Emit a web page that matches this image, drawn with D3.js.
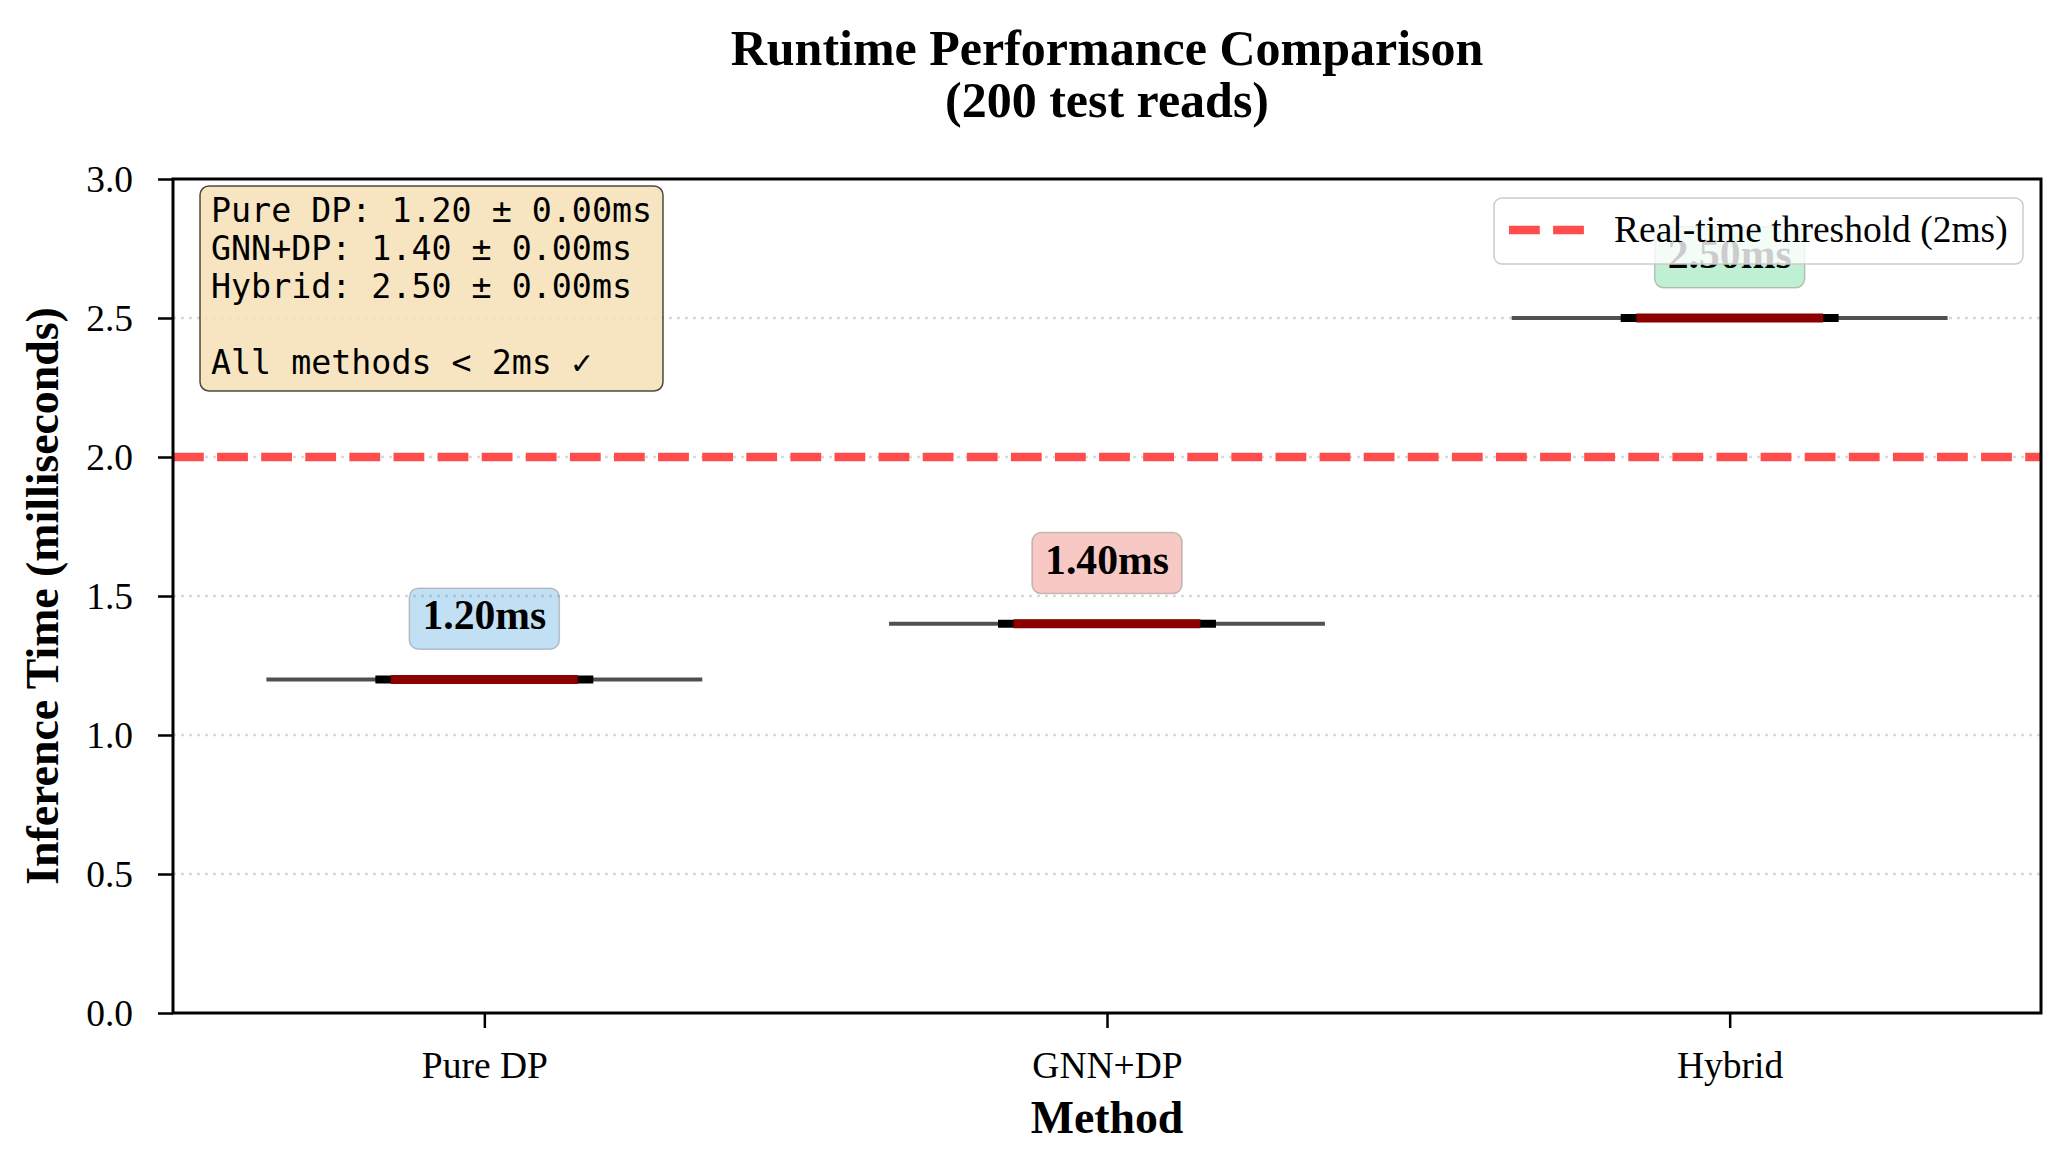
<!DOCTYPE html>
<html>
<head>
<meta charset="utf-8">
<script src="https://cdn.jsdelivr.net/npm/d3@7"></script>
<style>
  html, body { margin: 0; padding: 0; background: #ffffff; }
  svg { display: block; }
</style>
</head>
<body>
<svg id="chart" width="2071" height="1173"></svg>
<script>
// ---- data ----
const methods = ["Pure DP", "GNN+DP", "Hybrid"];
const meanTimes = [1.20, 1.40, 2.50];
const stdTimes = [0.00, 0.00, 0.00];
const labelColors = ["#3498db", "#e74c3c", "#2ecc71"];
const yTicks = [0.0, 0.5, 1.0, 1.5, 2.0, 2.5, 3.0];
const yDomain = [0, 3];
const thresholdValue = 2;
const thresholdLabel = "Real-time threshold (2ms)";
const titleLines = ["Runtime Performance Comparison", "(200 test reads)"];
const xLabel = "Method";
const yLabel = "Inference Time (milliseconds)";

// ---- layout ----
const W = 2071, H = 1173;
const M = { left: 173, right: 2041, top: 179, bottom: 1013 };
const serif = "'Liberation Serif', 'Times New Roman', Times, serif";
const mono = "'DejaVu Sans Mono', monospace";

const svg = d3.select("#chart");

const x = d3.scalePoint().domain(methods).range([M.left, M.right]).padding(0.5);
const step = x.step();
const y = d3.scaleLinear().domain(yDomain).range([M.bottom, M.top]);

// grid
svg.append("g").selectAll("line")
  .data(yTicks.filter(t => t > yDomain[0] && t < yDomain[1]))
  .join("line")
  .attr("x1", M.left).attr("x2", M.right)
  .attr("y1", d => y(d)).attr("y2", d => y(d))
  .attr("stroke", "#d9d9d9").attr("stroke-width", 2.5)
  .attr("stroke-dasharray", "3,5");

// threshold line
svg.append("line")
  .attr("x1", M.left).attr("x2", M.right)
  .attr("y1", y(thresholdValue)).attr("y2", y(thresholdValue))
  .attr("stroke", "rgb(255,77,77)").attr("stroke-width", 8.3)
  .attr("stroke-dasharray", "30.8,13.3");

// violin (degenerate) + box + median
const g = svg.append("g");
methods.forEach((m, i) => {
  const cx = x(m), cy = y(meanTimes[i]);
  g.append("line")
    .attr("x1", cx - 0.35 * step).attr("x2", cx + 0.35 * step)
    .attr("y1", cy).attr("y2", cy)
    .attr("stroke", "#505050").attr("stroke-width", 4);
  g.append("line")
    .attr("x1", cx - 0.175 * step).attr("x2", cx + 0.175 * step)
    .attr("y1", cy).attr("y2", cy)
    .attr("stroke", "#000000").attr("stroke-width", 8);
  g.append("line")
    .attr("x1", cx - 0.15 * step).attr("x2", cx + 0.15 * step)
    .attr("y1", cy).attr("y2", cy)
    .attr("stroke", "#8b0000").attr("stroke-width", 9);
});

// value annotations
methods.forEach((m, i) => {
  const cx = x(m);
  const base = y(meanTimes[i] + 0.15) - 8.5;
  const ag = svg.append("g");
  ag.append("rect")
    .attr("x", cx - 75).attr("y", base - 41)
    .attr("width", 150).attr("height", 61)
    .attr("rx", 9).attr("ry", 9)
    .attr("fill", labelColors[i]).attr("fill-opacity", 0.3)
    .attr("stroke", "#7f7f7f").attr("stroke-opacity", 0.45).attr("stroke-width", 1.5);
  ag.append("text")
    .attr("x", cx).attr("y", base)
    .attr("text-anchor", "middle")
    .attr("font-family", serif).attr("font-weight", "bold")
    .attr("font-size", 41.7).attr("fill", "#000")
    .text(meanTimes[i].toFixed(2) + "ms");
});

// axes
const yAxis = d3.axisLeft(y).tickValues(yTicks).tickFormat(d3.format(".1f"))
  .tickSize(15).tickPadding(25);
const ya = svg.append("g").attr("transform", `translate(${M.left},0)`).call(yAxis);
ya.select(".domain").remove();
ya.selectAll(".tick line").attr("stroke", "#000").attr("stroke-width", 2.5);
ya.selectAll(".tick text").attr("font-family", serif).attr("font-size", 37.5).attr("fill", "#000");

const xAxis = d3.axisBottom(x).tickSize(15);
const xa = svg.append("g").attr("transform", `translate(0,${M.bottom})`).call(xAxis);
xa.select(".domain").remove();
xa.selectAll(".tick line").attr("stroke", "#000").attr("stroke-width", 2.5);
xa.selectAll(".tick text").attr("font-family", serif).attr("font-size", 37.5).attr("fill", "#000")
  .attr("y", 65).attr("dy", 0);

// frame
svg.append("rect")
  .attr("x", M.left).attr("y", M.top)
  .attr("width", M.right - M.left).attr("height", M.bottom - M.top)
  .attr("fill", "none").attr("stroke", "#000").attr("stroke-width", 3);

// stats box
const statLines = methods.map((m, i) => `${m}: ${meanTimes[i].toFixed(2)} ± ${stdTimes[i].toFixed(2)}ms`);
statLines.push("");
statLines.push(`All methods < ${thresholdValue}ms ✓`);
const sb = svg.append("g");
sb.append("rect")
  .attr("x", 200).attr("y", 186).attr("width", 463).attr("height", 205)
  .attr("rx", 9).attr("ry", 9)
  .attr("fill", "#f5deb3").attr("fill-opacity", 0.8)
  .attr("stroke", "#000").attr("stroke-opacity", 0.7).attr("stroke-width", 1.5);
statLines.forEach((s, i) => {
  sb.append("text")
    .attr("x", 211).attr("y", 222 + i * 38)
    .attr("font-family", mono).attr("font-size", 33.3).attr("fill", "#000")
    .attr("xml:space", "preserve")
    .text(s);
});

// legend
const lg = svg.append("g");
lg.append("rect")
  .attr("x", 1494).attr("y", 198).attr("width", 529).attr("height", 66)
  .attr("rx", 8).attr("ry", 8)
  .attr("fill", "#ffffff").attr("fill-opacity", 0.8)
  .attr("stroke", "#cccccc").attr("stroke-width", 1.5);
lg.append("line")
  .attr("x1", 1509).attr("x2", 1584).attr("y1", 230).attr("y2", 230)
  .attr("stroke", "rgb(255,77,77)").attr("stroke-width", 8.3)
  .attr("stroke-dasharray", "30.8,13.3");
lg.append("text")
  .attr("x", 1614).attr("y", 242)
  .attr("font-family", serif).attr("font-size", 37.5).attr("fill", "#000")
  .text(thresholdLabel);

// title
const cxMid = (M.left + M.right) / 2;
titleLines.forEach((t, i) => {
  svg.append("text")
    .attr("x", cxMid).attr("y", 65 + i * 52)
    .attr("text-anchor", "middle")
    .attr("font-family", serif).attr("font-weight", "bold").attr("font-size", 50)
    .attr("fill", "#000")
    .text(t);
});

// axis labels
svg.append("text")
  .attr("x", cxMid).attr("y", 1133)
  .attr("text-anchor", "middle")
  .attr("font-family", serif).attr("font-weight", "bold").attr("font-size", 45.8)
  .attr("fill", "#000")
  .text(xLabel);
svg.append("text")
  .attr("transform", `translate(58,${(M.top + M.bottom) / 2}) rotate(-90)`)
  .attr("text-anchor", "middle")
  .attr("font-family", serif).attr("font-weight", "bold").attr("font-size", 45.8)
  .attr("fill", "#000")
  .text(yLabel);
</script>
</body>
</html>
